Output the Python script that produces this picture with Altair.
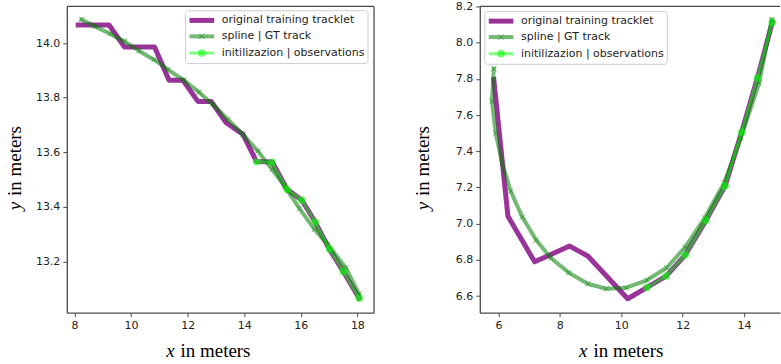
import altair as alt
import pandas as pd

# ---------------- data ----------------
LEFT_ORIG_X = [8.13, 9.22, 9.77, 10.83, 11.34, 11.83, 12.36, 12.83, 13.36, 13.95,
               14.43, 14.99, 15.51, 16.04, 16.51, 17.01, 17.50, 18.06]
LEFT_ORIG_Y = [14.066, 14.066, 13.985, 13.985, 13.864, 13.864, 13.786, 13.786, 13.708, 13.666,
               13.566, 13.564, 13.464, 13.424, 13.344, 13.245, 13.163, 13.065]
LEFT_SPLINE_X = [8.25, 8.72, 9.25, 9.77, 10.27, 10.81, 11.30, 11.86, 12.40, 12.89,
                 13.42, 13.95, 14.48, 14.98, 15.42, 15.95, 16.48, 16.95, 17.59, 18.06]
LEFT_SPLINE_Y = [14.086, 14.061, 14.034, 14.006, 13.972, 13.939, 13.903, 13.864, 13.820, 13.775,
                 13.720, 13.665, 13.604, 13.537, 13.476, 13.394, 13.317, 13.262, 13.177, 13.080]
LEFT_OBS_X = [14.44, 14.98, 15.51, 16.04, 16.51, 17.01, 17.50, 18.06]
LEFT_OBS_Y = [13.565, 13.563, 13.464, 13.424, 13.344, 13.245, 13.163, 13.065]

RIGHT_ORIG_X = [5.85, 6.31, 7.18, 8.32, 8.91, 10.21, 10.83, 11.46, 12.08, 12.76,
                13.38, 13.92, 14.43, 14.92]
RIGHT_ORIG_Y = [7.796, 7.041, 6.789, 6.876, 6.821, 6.585, 6.646, 6.710, 6.826, 7.018,
                7.207, 7.505, 7.804, 8.112]
RIGHT_SPLINE_X = [5.85, 5.79, 5.91, 6.12, 6.40, 6.78, 7.23, 7.70, 8.29, 8.91,
                  9.51, 10.16, 10.83, 11.48, 12.08, 12.72, 13.35, 13.89, 14.49, 14.90]
RIGHT_SPLINE_Y = [7.856, 7.676, 7.501, 7.335, 7.179, 7.036, 6.909, 6.811, 6.729, 6.668,
                  6.640, 6.646, 6.687, 6.756, 6.870, 7.032, 7.225, 7.473, 7.777, 8.127]
RIGHT_OBS_X = [10.83, 11.46, 12.08, 12.76, 13.38, 13.92, 14.43, 14.92]
RIGHT_OBS_Y = [6.646, 6.710, 6.826, 7.018, 7.207, 7.505, 7.804, 8.112]

LEFT_XTICKS = [8, 10, 12, 14, 16, 18]
LEFT_YTICKS = [13.2, 13.4, 13.6, 13.8, 14.0]
RIGHT_XTICKS = [6, 8, 10, 12, 14]
RIGHT_YTICKS = [6.6, 6.8, 7.0, 7.2, 7.4, 7.6, 7.8, 8.0, 8.2]

LEGEND_LABELS = ["original training tracklet", "spline | GT track", "initilizazion | observations"]
AXIS_X_VAR, AXIS_Y_VAR, AXIS_UNIT = "x", "y", "in meters"

# ---------------- styling ----------------
PURPLE = "#800080"
GREEN = "#008000"
LIME = "#00ff00"
FRAME = "#4a4a4a"
X_PATH = "M-1,-1L1,1M-1,1L1,-1"
SERIF = "Liberation Serif"
SANS = "DejaVu Sans"


def track(xs, ys):
    return pd.DataFrame({"x": xs, "y": ys, "i": list(range(len(xs)))})


def one():
    return alt.Chart(pd.DataFrame({"d": [0]}))


def panel(orig, spline, obs, xdom, ydom, xticks, yticks, W, H, yext, legend_xy, ytitle_x, top_right_frame):
    xs = alt.Scale(domain=xdom, nice=False, zero=False)
    ys = alt.Scale(domain=ydom, nice=False, zero=False)
    X = alt.X("x:Q", scale=xs, axis=alt.Axis(values=xticks, format="d", title=None, grid=False,
                                             labelFlush=False, labelOverlap=False))
    Y = alt.Y("y:Q", scale=ys, axis=alt.Axis(values=yticks, format=".1f", title=None, grid=False,
                                             labelOverlap=False, minExtent=yext, maxExtent=yext))
    O = alt.Order("i:Q")

    layers = []
    layers.append(alt.Chart(track(*orig)).mark_line(
        color=PURPLE, strokeWidth=5, opacity=0.8, strokeJoin="round", strokeCap="square"
    ).encode(x=X, y=Y, order=O))
    sp = alt.Chart(track(*spline))
    layers.append(sp.mark_line(color=GREEN, strokeWidth=4, opacity=0.55, strokeJoin="round",
                               strokeCap="square").encode(x=X, y=Y, order=O))
    layers.append(sp.mark_point(shape=X_PATH, size=30, strokeWidth=1, color=GREEN, opacity=0.55,
                                filled=False).encode(x=X, y=Y))
    ob = alt.Chart(track(*obs))
    layers.append(ob.mark_line(color=LIME, strokeWidth=3, opacity=0.5, strokeJoin="round",
                               strokeCap="square").encode(x=X, y=Y, order=O))
    layers.append(ob.mark_circle(size=60, color=LIME, opacity=0.55).encode(x=X, y=Y))

    # frame (top / right); left and bottom come from the axis domains
    layers.append(one().mark_rule(color=FRAME, strokeWidth=1.3).encode(
        x=alt.value(0), x2=alt.value(W), y=alt.value(0)))
    if top_right_frame:
        layers.append(one().mark_rule(color=FRAME, strokeWidth=1.3).encode(
            x=alt.value(W), y=alt.value(0), y2=alt.value(H)))

    # legend
    bx, by = legend_xy
    layers.append(one().mark_rect(fill="white", fillOpacity=0.8, stroke="#cccccc", strokeWidth=1,
                                  cornerRadius=3).encode(
        x=alt.value(bx), x2=alt.value(bx + 183), y=alt.value(by), y2=alt.value(by + 53)))
    rows = [by + 9.7, by + 25.7, by + 42.4]
    lx1, lx2, lm, lt = bx + 4, bx + 28.7, bx + 16.3, bx + 36.3
    layers.append(one().mark_rule(color=PURPLE, strokeWidth=5, opacity=0.8).encode(
        x=alt.value(lx1), x2=alt.value(lx2), y=alt.value(rows[0])))
    layers.append(one().mark_rule(color=GREEN, strokeWidth=4, opacity=0.55).encode(
        x=alt.value(lx1), x2=alt.value(lx2), y=alt.value(rows[1])))
    layers.append(one().mark_point(shape=X_PATH, size=30, strokeWidth=1, color=GREEN, opacity=0.55,
                                   filled=False).encode(x=alt.value(lm), y=alt.value(rows[1])))
    layers.append(one().mark_rule(color=LIME, strokeWidth=3, opacity=0.5).encode(
        x=alt.value(lx1), x2=alt.value(lx2), y=alt.value(rows[2])))
    layers.append(one().mark_circle(size=60, color=LIME, opacity=0.55).encode(
        x=alt.value(lm), y=alt.value(rows[2])))
    for r, lab in zip(rows, LEGEND_LABELS):
        layers.append(one().mark_text(text=lab, font=SANS, fontSize=11, align="left", baseline="middle",
                                      color="#222222").encode(x=alt.value(lt), y=alt.value(r)))

    # axis titles (italic variable + upright unit)
    layers.append(one().mark_text(text=AXIS_X_VAR, font=SERIF, fontStyle="italic", fontSize=19,
                                  align="right", baseline="alphabetic", color="black").encode(
        x=alt.value(108), y=alt.value(H + 44.7)))
    layers.append(one().mark_text(text=AXIS_UNIT, font=SERIF, fontSize=19,
                                  align="left", baseline="alphabetic", color="black").encode(
        x=alt.value(114), y=alt.value(H + 44.7)))
    layers.append(one().mark_text(text=AXIS_Y_VAR, font=SERIF, fontStyle="italic", fontSize=19, angle=270,
                                  align="right", baseline="alphabetic", color="black").encode(
        x=alt.value(ytitle_x), y=alt.value(196)))
    layers.append(one().mark_text(text=AXIS_UNIT, font=SERIF, fontSize=19, angle=270,
                                  align="left", baseline="alphabetic", color="black").encode(
        x=alt.value(ytitle_x), y=alt.value(190)))

    return alt.layer(*layers).properties(width=W, height=H)


left = panel((LEFT_ORIG_X, LEFT_ORIG_Y), (LEFT_SPLINE_X, LEFT_SPLINE_Y), (LEFT_OBS_X, LEFT_OBS_Y),
             [7.728, 18.589], [13.012, 14.134], LEFT_XTICKS, LEFT_YTICKS, 308, 307, 67,
             (119, 4.3), -46, True)
right = panel((RIGHT_ORIG_X, RIGHT_ORIG_Y), (RIGHT_SPLINE_X, RIGHT_SPLINE_Y), (RIGHT_OBS_X, RIGHT_OBS_Y),
              [5.393, 15.17], [6.508, 8.2], RIGHT_XTICKS, RIGHT_YTICKS, 301, 307, 70,
              (5, 5), -50.7, False)

chart = alt.hconcat(left, right, spacing=35).properties(
    padding={"left": 0, "right": 0, "top": 0, "bottom": 0}
).configure_view(stroke=None).configure_axis(
    domainColor=FRAME, domainWidth=1.3, tickColor=FRAME, tickWidth=1, tickSize=4,
    labelPadding=3, labelFont=SANS, labelFontSize=11, labelColor="#222222"
)

chart.save("out.html", embed_options={"renderer": "svg", "actions": False})
